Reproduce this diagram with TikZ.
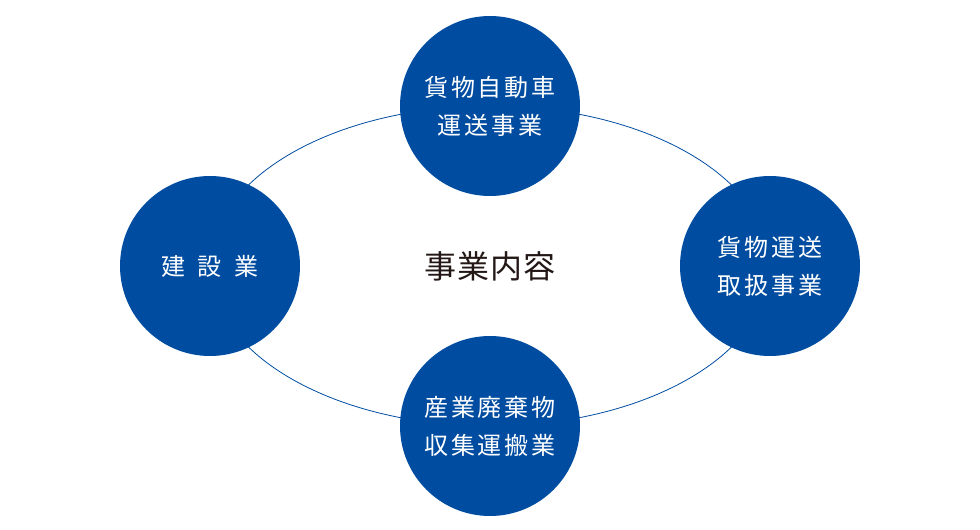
\documentclass[tikz,border=0pt]{standalone}
\usepackage{fontspec}
\usetikzlibrary{positioning}
\newfontfamily\jpfont[LetterSpace=12]{Noto Sans CJK JP}
\newfontfamily\jptitle[LetterSpace=3]{Noto Sans CJK JP}
\definecolor{bizblue}{RGB}{0,76,160}
\definecolor{inkblack}{RGB}{35,24,21}

\begin{document}
\begin{tikzpicture}[x=1pt,y=1pt,
    biz/.style={circle, fill=bizblue, minimum size=180pt, inner sep=0pt,
      text=white, align=center, font=\jpfont\fontsize{24}{38}\selectfont}]
	\useasboundingbox (0,0) rectangle (980,-530);
	\node (center_title) at (490,-266) {};
	\draw[bizblue, line width=0.8pt] (center_title) ellipse [x radius=280pt, y radius=160pt];
	\node[biz] (truck_biz) at (490,-106) {貨物自動車\\運送事業};
	\node[biz] (build_biz) at (210,-266) {建\hspace{13pt}設\hspace{13pt}業};
	\node[biz] (freight_biz) at (770,-266) {貨物運送\\取扱事業};
	\node[biz] (waste_biz) at (490,-426) {産業廃棄物\\収集運搬業};
	\node[text=inkblack, font=\jptitle\fontsize{32}{38}\selectfont] (title_text) at (center_title) {事業内容};
\end{tikzpicture}
\end{document}
